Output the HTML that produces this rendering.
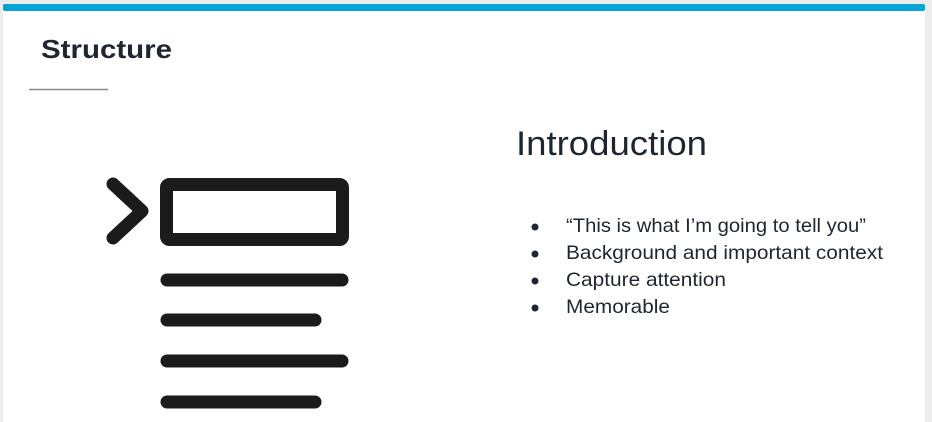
<!DOCTYPE html>
<html><head><meta charset="utf-8"><style>
html,body{margin:0;padding:0;background:#ececec;}
svg{display:block}
</style></head><body>
<svg width="932" height="422" viewBox="0 0 932 422" xmlns="http://www.w3.org/2000/svg">
<rect x="0" y="0" width="932" height="422" fill="#ececec"/>
<rect x="3" y="5" width="922" height="420" fill="#ffffff"/>
<rect x="3" y="4" width="922" height="7" rx="2" fill="#0aa3d6"/>
<text x="41" y="58" font-family="Liberation Sans, sans-serif" font-weight="bold" font-size="26" fill="#1f2630" textLength="131" lengthAdjust="spacingAndGlyphs">Structure</text>
<line x1="29" y1="89.5" x2="108" y2="89.5" stroke="#8a8a8a" stroke-width="1.5"/>
<rect x="166.5" y="184.5" width="176" height="55" rx="3" fill="none" stroke="#1b1b1c" stroke-width="13"/>
<polyline points="113,184 142,211 113,238" fill="none" stroke="#1b1b1c" stroke-width="13" stroke-linecap="round" stroke-linejoin="round"/>
<g stroke="#1b1b1c" stroke-width="13" stroke-linecap="round">
<line x1="167" y1="280" x2="342" y2="280"/>
<line x1="167" y1="320" x2="315" y2="320"/>
<line x1="167" y1="361" x2="342" y2="361"/>
<line x1="167" y1="402" x2="315" y2="402"/>
</g>
<text x="516" y="155" font-family="Liberation Sans, sans-serif" font-size="34" fill="#1f2630" textLength="191" lengthAdjust="spacingAndGlyphs">Introduction</text>
<g fill="#1f2630">
<circle cx="535" cy="227" r="3.5"/><circle cx="535" cy="254" r="3.5"/><circle cx="535" cy="281" r="3.5"/><circle cx="535" cy="308" r="3.5"/>
</g>
<g font-family="Liberation Sans, sans-serif" font-size="19.5" fill="#1f2630">
<text x="566" y="232" textLength="300" lengthAdjust="spacingAndGlyphs">“This is what I’m going to tell you”</text>
<text x="566" y="259" textLength="317" lengthAdjust="spacingAndGlyphs">Background and important context</text>
<text x="566" y="286" textLength="160" lengthAdjust="spacingAndGlyphs">Capture attention</text>
<text x="566" y="313" textLength="104" lengthAdjust="spacingAndGlyphs">Memorable</text>
</g>
</svg>
</body></html>
